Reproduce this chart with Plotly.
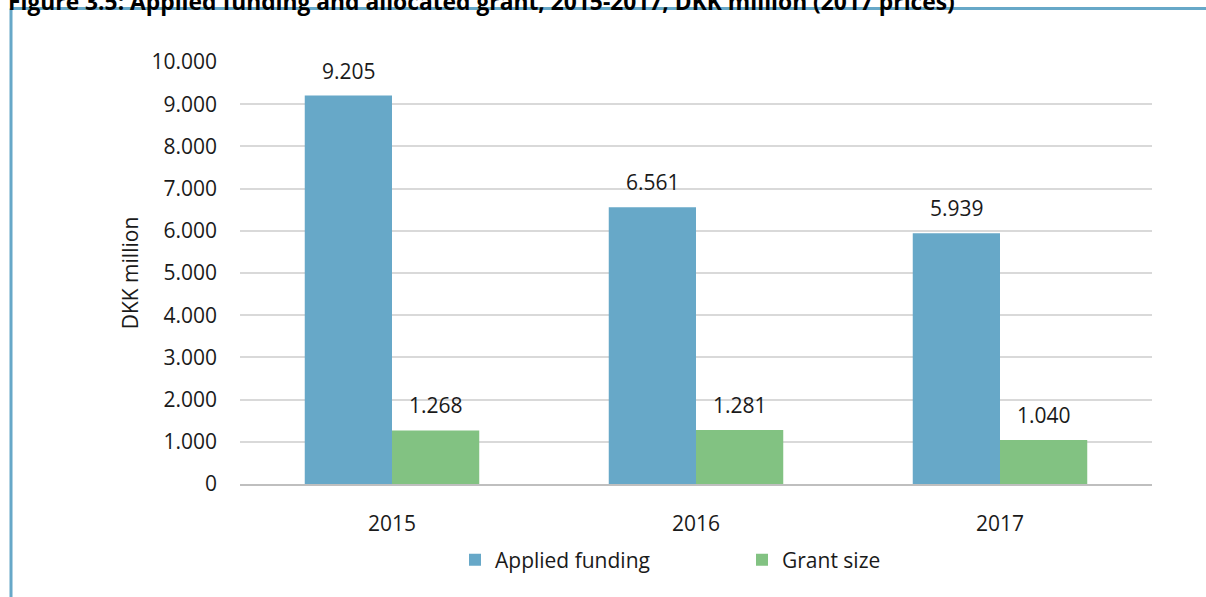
import plotly.graph_objects as go

years = ['2015', '2016', '2017']
applied_funding = [9205, 6561, 5939]
grant_size = [1268, 1281, 1040]
y_ticks = [0, 1000, 2000, 3000, 4000, 5000, 6000, 7000, 8000, 9000, 10000]

W, H = 1206, 597
ML, MT = 240, 62
MR, MB = W - 1152, H - 484
blue = '#67a8c8'
green = '#82c282'
font = 'Open Sans'
txt = '#1a1a1a'

fig = go.Figure()
fig.add_trace(go.Bar(name='Applied funding', x=years, y=applied_funding,
                     marker=dict(color=blue, line=dict(width=0))))
fig.add_trace(go.Bar(name='Grant size', x=years, y=grant_size,
                     marker=dict(color=green, line=dict(width=0))))

# value labels above bars (x as category index)
for vals, shift in [(applied_funding, -43.5), (grant_size, 43.5)]:
    for i, v in enumerate(vals):
        fig.add_annotation(x=i, y=v, xref='x', yref='y', xshift=shift,
                           yshift=9, yanchor='bottom', showarrow=False,
                           text=f'{v:,}'.replace(',', '.'),
                           font=dict(family=font, size=21, color=txt))

pw = W - ML - MR
ph = H - MT - MB


def px(x):
    return (x - ML) / pw


def py(y):
    return (H - MB - y) / ph


# frame (blue lines on top and left)
fig.add_shape(type='line', xref='paper', yref='paper', x0=px(11), x1=px(W + 10),
              y0=py(8.5), y1=py(8.5), line=dict(color=blue, width=3))
fig.add_shape(type='line', xref='paper', yref='paper', x0=px(11), x1=px(11),
              y0=py(8.5), y1=py(H + 10), line=dict(color=blue, width=3))

# title, mostly cut off above the frame
fig.add_annotation(xref='paper', yref='paper', x=px(6), y=py(19.5),
                   xanchor='left', yanchor='bottom', showarrow=False,
                   text='<b>Figure 3.5: Applied funding and allocated grant, 2015-2017, DKK million (2017 prices)</b>',
                   font=dict(family=font, size=22.8, color='black'))

fig.update_layout(
    width=W, height=H,
    margin=dict(l=ML, r=MR, t=MT, b=MB, autoexpand=False),
    paper_bgcolor='white', plot_bgcolor='white',
    separators=',.',
    barmode='group', bargap=0.426, bargroupgap=0,
    font=dict(family=font, size=21, color=txt),
    showlegend=True,
    legend=dict(orientation='h', x=455 / W, xanchor='left', xref='container',
                y=(H - 560) / H, yanchor='middle', yref='container',
                entrywidth=242, font=dict(family=font, size=21, color=txt),
                itemclick=False, itemdoubleclick=False),
    xaxis=dict(type='category', range=[-0.5, 2.5], showgrid=False, showline=True,
               linecolor='#bfbfbf', linewidth=1.5, automargin=False,
               ticks='', ticklabelstandoff=20, tickfont=dict(size=21)),
    yaxis=dict(range=[0, 10000], tickvals=y_ticks, tickformat=',.0f',
               showgrid=True, gridcolor='#d9d9d9', gridwidth=1.5,
               zeroline=False, showline=False, ticks='', ticklabelstandoff=22,
               automargin=False, tickfont=dict(size=21),
               title=dict(text='DKK million', standoff=7,
                          font=dict(family=font, size=21))),
)

# page has a default 8px body margin; drop it so the figure sits at the corner
fig.write_html('out.html', config={'displayModeBar': False},
               post_script="document.body.style.margin='0';")
